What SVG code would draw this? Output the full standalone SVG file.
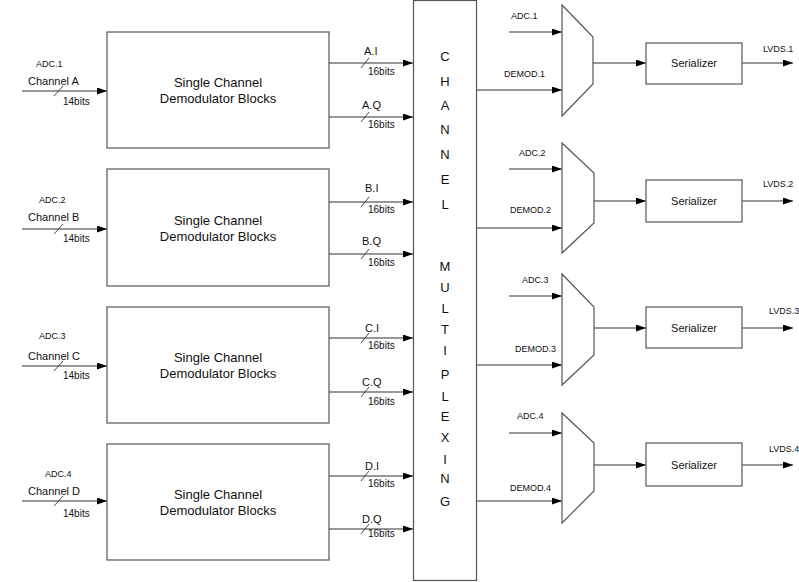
<svg xmlns="http://www.w3.org/2000/svg" width="799" height="582" viewBox="0 0 799 582">
<style>
.box{fill:#fff;stroke:#555;stroke-width:1.2}
.ln{fill:none;stroke:#333;stroke-width:1.2}
.sl{fill:none;stroke:#333;stroke-width:0.9}
text{font-family:"Liberation Sans",Arial,sans-serif;fill:#111}
.big{font-size:13px;text-anchor:middle}
.mid{font-size:11px}
.sm{font-size:9px}
.bits{font-size:10px}
.let{font-size:13px;text-anchor:middle}
</style>
<defs>
<marker id="ah" markerUnits="userSpaceOnUse" viewBox="0 0 10 7" refX="10" refY="3.5" markerWidth="10" markerHeight="7" orient="auto">
<path d="M0,0 L10,3.5 L0,7 z" fill="#000"/>
</marker>
</defs>
<rect width="799" height="582" fill="#fff"/>

<g id="connectors">
<path class="ln" marker-end="url(#ah)" d="M22,91 H107"/>
<path class="ln" marker-end="url(#ah)" d="M22,229 H107"/>
<path class="ln" marker-end="url(#ah)" d="M22,366 H107"/>
<path class="ln" marker-end="url(#ah)" d="M22,501 H107"/>
<path class="ln" marker-end="url(#ah)" d="M329,63 H413"/>
<path class="ln" marker-end="url(#ah)" d="M329,117 H413"/>
<path class="ln" marker-end="url(#ah)" d="M329,202 H413"/>
<path class="ln" marker-end="url(#ah)" d="M329,254 H413"/>
<path class="ln" marker-end="url(#ah)" d="M329,338 H413"/>
<path class="ln" marker-end="url(#ah)" d="M329,392 H413"/>
<path class="ln" marker-end="url(#ah)" d="M329,476 H413"/>
<path class="ln" marker-end="url(#ah)" d="M329,529 H413"/>
<path class="sl" d="M54,96 L63,86 M54,234 L63,224 M54,371 L63,361 M54,506 L63,496"/>
<path class="sl" d="M361,68 L369,58 M361,122 L369,112 M361,207 L369,197 M361,259 L369,249 M361,343 L369,333 M361,397 L369,387 M361,481 L369,471 M361,534 L369,524"/>
<path class="ln" marker-end="url(#ah)" d="M509,32 H562"/>
<path class="ln" marker-end="url(#ah)" d="M477,90 H562"/>
<path class="ln" marker-end="url(#ah)" d="M593,63 H646"/>
<path class="ln" marker-end="url(#ah)" d="M742,63 H793"/>
<path class="ln" marker-end="url(#ah)" d="M509,169 H562"/>
<path class="ln" marker-end="url(#ah)" d="M477,228 H562"/>
<path class="ln" marker-end="url(#ah)" d="M593,201 H646"/>
<path class="ln" marker-end="url(#ah)" d="M742,201 H793"/>
<path class="ln" marker-end="url(#ah)" d="M509,296 H562"/>
<path class="ln" marker-end="url(#ah)" d="M477,365 H562"/>
<path class="ln" marker-end="url(#ah)" d="M593,328 H646"/>
<path class="ln" marker-end="url(#ah)" d="M742,328 H793"/>
<path class="ln" marker-end="url(#ah)" d="M509,433 H562"/>
<path class="ln" marker-end="url(#ah)" d="M477,501 H562"/>
<path class="ln" marker-end="url(#ah)" d="M593,465 H646"/>
<path class="ln" marker-end="url(#ah)" d="M742,465 H793"/>
</g>

<g id="labels">
<text class="sm" x="36" y="67">ADC.1</text>
<text class="mid" x="28" y="85">Channel A</text>
<text class="bits" x="63" y="105">14bits</text>
<text class="sm" x="39" y="203">ADC.2</text>
<text class="mid" x="28" y="221">Channel B</text>
<text class="bits" x="63" y="242">14bits</text>
<text class="sm" x="39" y="339">ADC.3</text>
<text class="mid" x="28" y="360">Channel C</text>
<text class="bits" x="63" y="379">14bits</text>
<text class="sm" x="45" y="477">ADC.4</text>
<text class="mid" x="28" y="495">Channel D</text>
<text class="bits" x="63" y="517">14bits</text>

<text class="mid" x="364" y="55">A.I</text>
<text class="bits" x="368" y="75">16bits</text>
<text class="mid" x="362" y="109">A.Q</text>
<text class="bits" x="368" y="128">16bits</text>
<text class="mid" x="365" y="192">B.I</text>
<text class="bits" x="368" y="213">16bits</text>
<text class="mid" x="362" y="245">B.Q</text>
<text class="bits" x="368" y="266">16bits</text>
<text class="mid" x="365" y="332">C.I</text>
<text class="bits" x="368" y="349">16bits</text>
<text class="mid" x="362" y="386">C.Q</text>
<text class="bits" x="368" y="405">16bits</text>
<text class="mid" x="365" y="470">D.I</text>
<text class="bits" x="368" y="487">16bits</text>
<text class="mid" x="362" y="523">D.Q</text>
<text class="bits" x="368" y="537">16bits</text>

<text class="sm" x="511" y="19">ADC.1</text>
<text class="sm" x="504" y="77">DEMOD.1</text>
<text class="sm" x="763" y="52">LVDS.1</text>
<text class="sm" x="519" y="156">ADC.2</text>
<text class="sm" x="510" y="213">DEMOD.2</text>
<text class="sm" x="763" y="187">LVDS.2</text>
<text class="sm" x="522" y="283">ADC.3</text>
<text class="sm" x="515" y="352">DEMOD.3</text>
<text class="sm" x="769" y="314">LVDS.3</text>
<text class="sm" x="517" y="419">ADC.4</text>
<text class="sm" x="510" y="491">DEMOD.4</text>
<text class="sm" x="769" y="452">LVDS.4</text>
</g>

<g id="demodA">
<rect class="box" x="107" y="32" width="222" height="116"/>
<text class="big" x="218" y="87">Single Channel</text>
<text class="big" x="218" y="103">Demodulator Blocks</text>
</g>
<g id="demodB">
<rect class="box" x="107" y="169" width="222" height="117"/>
<text class="big" x="218" y="225">Single Channel</text>
<text class="big" x="218" y="241">Demodulator Blocks</text>
</g>
<g id="demodC">
<rect class="box" x="107" y="307" width="222" height="116"/>
<text class="big" x="218" y="362">Single Channel</text>
<text class="big" x="218" y="378">Demodulator Blocks</text>
</g>
<g id="demodD">
<rect class="box" x="107" y="444" width="222" height="116"/>
<text class="big" x="218" y="499">Single Channel</text>
<text class="big" x="218" y="515">Demodulator Blocks</text>
</g>

<g id="channelMux">
<rect class="box" x="413.5" y="0.5" width="63" height="580"/>
<text class="let" x="445" y="61">C</text>
<text class="let" x="445" y="86">H</text>
<text class="let" x="445" y="110">A</text>
<text class="let" x="445" y="134">N</text>
<text class="let" x="445" y="159">N</text>
<text class="let" x="445" y="184">E</text>
<text class="let" x="445" y="209">L</text>
<text class="let" x="445" y="271">M</text>
<text class="let" x="445" y="292">U</text>
<text class="let" x="445" y="313">L</text>
<text class="let" x="445" y="334">T</text>
<text class="let" x="445" y="355">I</text>
<text class="let" x="445" y="379">P</text>
<text class="let" x="445" y="401">L</text>
<text class="let" x="445" y="421">E</text>
<text class="let" x="445" y="442">X</text>
<text class="let" x="445" y="464">I</text>
<text class="let" x="445" y="483">N</text>
<text class="let" x="445" y="506">G</text>
</g>

<g id="mux1"><path class="box" d="M562,5 L593,37 L593,84 L562,116 Z"/></g>
<g id="mux2"><path class="box" d="M562,143 L594,173 L594,223 L562,253 Z"/></g>
<g id="mux3"><path class="box" d="M562,274 L594,307 L594,355 L562,385 Z"/></g>
<g id="mux4"><path class="box" d="M562,413 L594,443 L594,491 L562,523 Z"/></g>

<g id="ser1"><rect class="box" x="646" y="43" width="96" height="41"/><text class="mid" x="694" y="67" text-anchor="middle">Serializer</text></g>
<g id="ser2"><rect class="box" x="646" y="180" width="96" height="42"/><text class="mid" x="694" y="205" text-anchor="middle">Serializer</text></g>
<g id="ser3"><rect class="box" x="646" y="307" width="96" height="41"/><text class="mid" x="694" y="332" text-anchor="middle">Serializer</text></g>
<g id="ser4"><rect class="box" x="646" y="443" width="96" height="43"/><text class="mid" x="694" y="469" text-anchor="middle">Serializer</text></g>
</svg>
